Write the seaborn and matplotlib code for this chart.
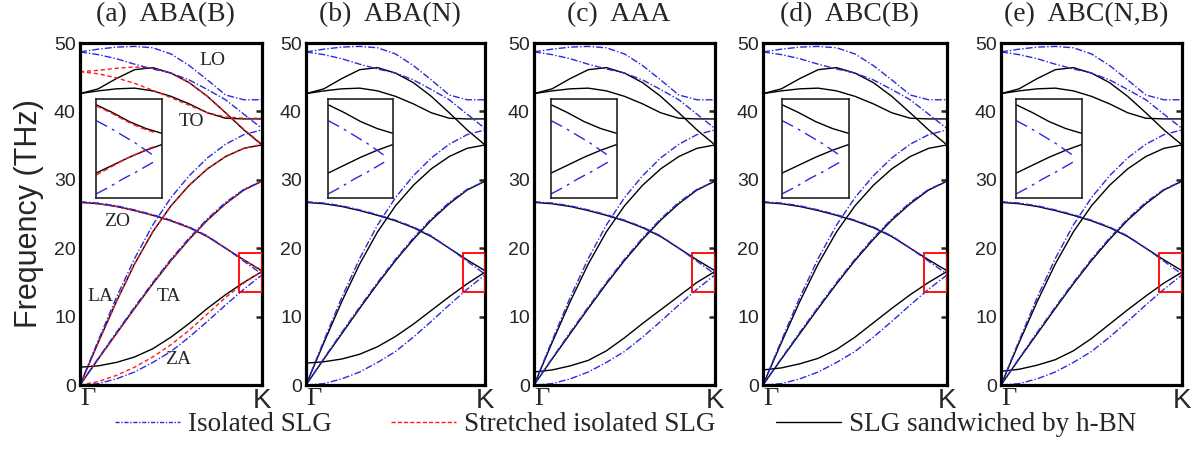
import matplotlib
matplotlib.use('Agg')
import matplotlib.pyplot as plt
from matplotlib.lines import Line2D
from matplotlib.patches import Rectangle
import pandas as pd
import seaborn as sns

# --- data (frequency in THz along Gamma-K) ---
k_points = [0.0, 0.1, 0.2, 0.3, 0.4, 0.5, 0.6, 0.7, 0.8, 0.9, 1.0]

# isolated SLG (blue)
iso_za = [0.0, 0.2, 0.9, 1.9, 3.3, 4.9, 7.0, 9.3, 11.7, 14.0, 16.1]
iso_ta = [0.0, 3.9, 7.7, 11.4, 15.0, 18.4, 21.5, 24.3, 26.7, 28.6, 29.8]
iso_la = [0.0, 6.5, 12.8, 18.5, 23.4, 27.4, 30.6, 33.2, 35.2, 36.6, 37.3]
iso_zo = [26.8, 26.6, 26.2, 25.6, 24.9, 24.1, 23.1, 21.8, 20.0, 18.1, 16.2]
iso_to = [48.7, 48.3, 47.7, 46.9, 46.2, 45.6, 44.6, 43.2, 41.7, 39.6, 37.5]
iso_lo = [48.7, 49.1, 49.4, 49.5, 49.3, 48.4, 46.7, 44.6, 42.4, 41.7, 41.7]

# stretched isolated SLG (red, panel a only)
str_za = [0.0, 0.5, 1.4, 2.6, 4.1, 5.9, 8.0, 10.4, 12.8, 14.9, 16.6]
str_ta = [0.0, 3.8, 7.5, 11.2, 14.8, 18.2, 21.3, 24.1, 26.5, 28.5, 29.8]
str_la = [0.0, 6.2, 12.2, 17.7, 22.4, 26.2, 29.2, 31.6, 33.4, 34.6, 35.2]
str_zo = [26.7, 26.5, 26.1, 25.5, 24.8, 24.0, 23.0, 21.7, 20.0, 18.3, 16.6]
str_to = [45.8, 45.5, 44.9, 44.1, 43.1, 42.0, 40.9, 39.8, 39.2, 39.0, 39.0]
str_lo = [45.8, 46.0, 46.3, 46.5, 46.3, 45.6, 44.2, 42.2, 39.8, 37.4, 35.2]

# SLG sandwiched by h-BN (black)
sw_ta = [0.0, 3.8, 7.5, 11.2, 14.8, 18.2, 21.3, 24.1, 26.5, 28.5, 29.8]
sw_la = [0.0, 6.2, 12.2, 17.7, 22.4, 26.2, 29.2, 31.6, 33.4, 34.6, 35.1]
sw_zo = [26.7, 26.5, 26.1, 25.5, 24.8, 24.0, 23.0, 21.7, 20.0, 18.3, 16.7]
sw_to = [42.6, 43.0, 43.3, 43.4, 43.0, 42.2, 41.1, 39.8, 39.0, 38.9, 38.9]
sw_lo = [42.6, 43.3, 44.8, 46.1, 46.4, 45.6, 44.2, 42.2, 39.8, 37.3, 35.1]
sw_za_a = [2.6, 2.8, 3.3, 4.1, 5.3, 7.0, 9.0, 11.2, 13.2, 15.0, 16.6]
sw_za_b = [3.2, 3.4, 3.8, 4.5, 5.6, 7.1, 8.9, 10.9, 12.9, 14.8, 16.5]
sw_za_c = [1.9, 2.2, 2.8, 3.6, 5.0, 6.9, 9.0, 11.0, 13.0, 15.0, 16.6]
sw_za_d = [2.2, 2.5, 3.1, 3.9, 5.2, 7.0, 9.1, 11.2, 13.2, 15.0, 16.6]
sw_za_e = [2.0, 2.3, 2.9, 3.7, 5.0, 6.8, 8.9, 11.0, 13.0, 14.9, 16.5]

panel_titles = ['(a)  ABA(B)', '(b)  ABA(N)', '(c)  AAA', '(d)  ABC(B)', '(e)  ABC(N,B)']
sw_za_panels = [sw_za_a, sw_za_b, sw_za_c, sw_za_d, sw_za_e]

branch_labels = ['LO', 'TO', 'ZO', 'LA', 'TA', 'ZA']
branch_label_k = [0.73, 0.615, 0.205, 0.11, 0.49, 0.54]
branch_label_f = [47.4, 38.5, 23.9, 13.0, 13.0, 3.8]

# inset (zoom of the K-point box), normalised inset coordinates
inset_x_black = [0.0, 0.25, 0.5, 0.75, 1.0]
inset_black_down = [0.94, 0.86, 0.77, 0.70, 0.65]
inset_black_up = [0.25, 0.33, 0.41, 0.48, 0.54]
inset_x_red = [0.0, 0.22, 0.44, 0.66, 0.88]
inset_red_down = [0.93, 0.86, 0.78, 0.71, 0.66]
inset_red_up = [0.23, 0.31, 0.39, 0.46, 0.52]
inset_x_blue = [0.0, 0.2, 0.4, 0.6, 0.86]
inset_blue_down = [0.78, 0.71, 0.63, 0.55, 0.43]
inset_blue_up = [0.04, 0.11, 0.19, 0.26, 0.36]

models = ['SLG sandwiched by h-BN', 'Stretched isolated SLG', 'Isolated SLG']
colors = {'Isolated SLG': '#2a2ae0', 'Stretched isolated SLG': '#ff1a1a',
          'SLG sandwiched by h-BN': 'black'}
dashes = {'Isolated SLG': (5, 1.5, 1, 1.5), 'Stretched isolated SLG': (3, 2),
          'SLG sandwiched by h-BN': ''}
inset_dashes = {'Isolated SLG': (9, 4, 2, 4), 'Stretched isolated SLG': (4, 2),
                'SLG sandwiched by h-BN': ''}


def branches_frame(panel):
    rows = []
    sets = [('SLG sandwiched by h-BN', [sw_za_panels[panel], sw_ta, sw_la, sw_zo, sw_to, sw_lo])]
    if panel == 0:
        sets.append(('Stretched isolated SLG', [str_za, str_ta, str_la, str_zo, str_to, str_lo]))
    sets.append(('Isolated SLG', [iso_za, iso_ta, iso_la, iso_zo, iso_to, iso_lo]))
    for model, branches in sets:
        for name, vals in zip(['ZA', 'TA', 'LA', 'ZO', 'TO', 'LO'], branches):
            for k, f in zip(k_points, vals):
                rows.append({'k': k, 'freq': f, 'model': model, 'branch': model + name})
    return pd.DataFrame(rows)


def inset_frame(panel):
    rows = []
    sets = [('SLG sandwiched by h-BN', inset_x_black, [inset_black_down, inset_black_up])]
    if panel == 0:
        sets.append(('Stretched isolated SLG', inset_x_red, [inset_red_down, inset_red_up]))
    sets.append(('Isolated SLG', inset_x_blue, [inset_blue_down, inset_blue_up]))
    for model, xs, branches in sets:
        for j, vals in enumerate(branches):
            for x, y in zip(xs, vals):
                rows.append({'x': x, 'y': y, 'model': model, 'branch': f'{model}{j}'})
    return pd.DataFrame(rows)


sns.set_style('white')
plt.rcParams['font.family'] = ['Liberation Sans', 'DejaVu Sans']
serif = ['Liberation Serif', 'DejaVu Serif']

W, H = 1198, 449
panel_left = [80, 306, 534, 763, 1001]
panel_width = [182, 179, 181, 184, 181]
inset_x0 = [0.088, 0.123, 0.094, 0.103, 0.083]
ax_bottom_px, ax_top_px = 385, 43

fig = plt.figure(figsize=(W / 100, H / 100), dpi=100)
for i in range(5):
    ax = fig.add_axes([panel_left[i] / W, 1 - ax_bottom_px / H,
                       panel_width[i] / W, (ax_bottom_px - ax_top_px) / H])
    df = branches_frame(i)
    order = [m for m in models if m in df['model'].unique()]
    sns.lineplot(data=df, x='k', y='freq', hue='model', style='model', units='branch',
                 estimator=None, sort=False, hue_order=order, style_order=order,
                 palette=colors, dashes=dashes, linewidth=1.0, legend=False, ax=ax)
    ax.set_xlim(0, 1)
    ax.set_ylim(0, 50)
    ax.set_yticks([0, 10, 20, 30, 40, 50])
    ax.set_xticks([0, 1])
    ax.set_xticklabels(['Γ', 'K'])
    ax.set_xlabel('')
    ax.set_ylabel('')
    ax.tick_params(axis='y', direction='in', length=4, width=1.8, right=True,
                   labelsize=14, pad=3)
    ax.tick_params(axis='x', length=0, labelsize=20, pad=2)
    gl, kl = ax.get_xticklabels()
    gl.set_fontfamily(serif)
    gl.set_fontsize(19)
    gl.set_ha('left')
    for s in ax.spines.values():
        s.set_linewidth(2.3)
        s.set_color('black')
    ax.text(0.47, 1.083, panel_titles[i], transform=ax.transAxes, ha='center',
            va='center', fontsize=20, family=serif)

    # zoom box at K
    ax.add_patch(Rectangle((0.875, 13.6), 0.125, 5.7, fill=False,
                           edgecolor='red', linewidth=1.3, zorder=5))

    ins = ax.inset_axes([inset_x0[i], 0.547, 0.365, 0.29])
    dfi = inset_frame(i)
    order_i = [m for m in models if m in dfi['model'].unique()]
    sns.lineplot(data=dfi, x='x', y='y', hue='model', style='model', units='branch',
                 estimator=None, sort=False, hue_order=order_i, style_order=order_i,
                 palette=colors, dashes=inset_dashes, linewidth=1.0, legend=False, ax=ins)
    ins.set_xlim(0, 1)
    ins.set_ylim(0, 1)
    ins.set_xticks([])
    ins.set_yticks([])
    ins.set_xlabel('')
    ins.set_ylabel('')
    for s in ins.spines.values():
        s.set_linewidth(1.2)
        s.set_color('#222222')

    if i == 0:
        ax.set_ylabel('Frequency (THz)', fontsize=22)
        ax.yaxis.set_label_coords(-0.20, 0.5)
        for lab, kx, fy in zip(branch_labels, branch_label_k, branch_label_f):
            ax.text(kx, fy, lab, ha='center', va='center', fontsize=14, family=serif)

handles = [Line2D([], [], color=colors['Isolated SLG'], lw=1.0, ls=(0, (3, 1.2, 1, 1.2))),
           Line2D([], [], color=colors['Stretched isolated SLG'], lw=1.0, ls=(0, (3, 1.5))),
           Line2D([], [], color='black', lw=1.0)]
fig.legend(handles, ['Isolated SLG', 'Stretched isolated SLG', 'SLG sandwiched by h-BN'],
           loc='center', bbox_to_anchor=(0.522, 0.054), ncol=3, frameon=False,
           handlelength=2.4, handletextpad=0.3, columnspacing=2.2,
           prop={'family': serif, 'size': 19.5})

fig.savefig('out.png', dpi=100)
